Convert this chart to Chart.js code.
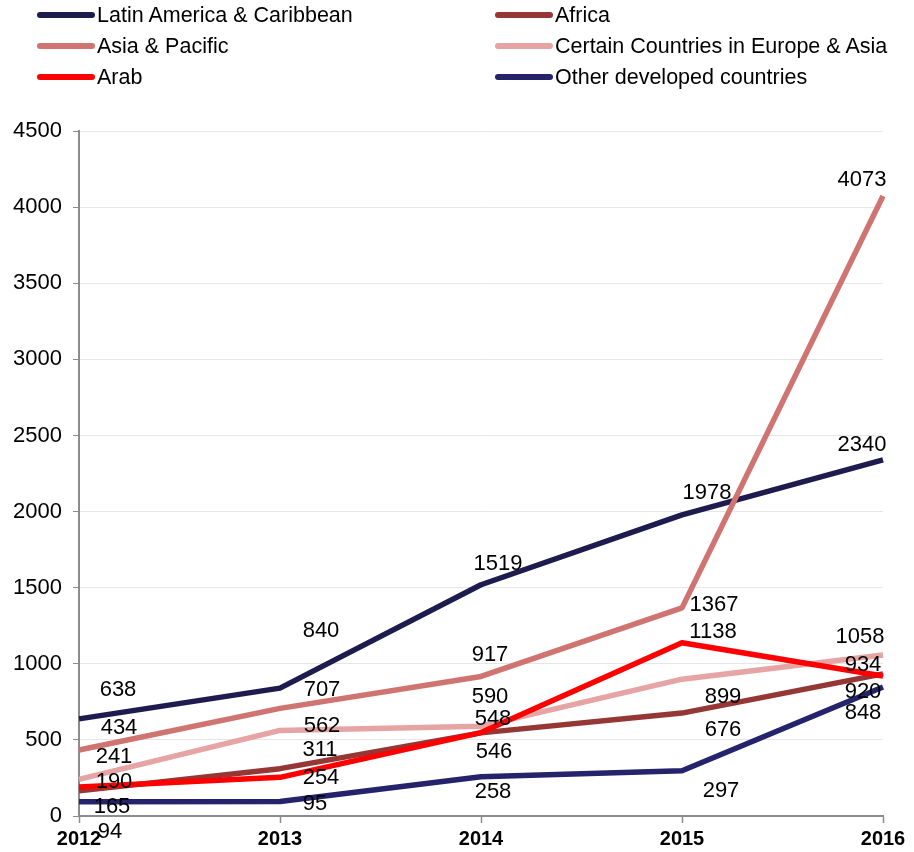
<!DOCTYPE html>
<html>
<head>
<meta charset="utf-8">
<script src="https://cdn.jsdelivr.net/npm/chart.js@4"></script>
<style>
  html, body { margin: 0; padding: 0; background: #fff; }
  #wrap { position: relative; width: 914px; height: 852px; font-family: 'Liberation Sans', Arial, sans-serif; }
  #chart { position: absolute; left: 0; top: 0; }
  .lg { position: absolute; display: flex; align-items: center; font-size: 21.5px; color: #000; white-space: nowrap; height: 24px; }
  .lg i { display: inline-block; width: 58px; height: 6px; border-radius: 3px; margin-right: 2px; }
</style>
</head>
<body>
<div id="wrap">
  <canvas id="chart" width="914" height="852"></canvas>
</div>
<script>
const YEARS = ['2012', '2013', '2014', '2015', '2016'];

const LATAM   = [638, 840, 1519, 1978, 2340];
const AFRICA  = [165, 311, 546, 676, 934];
const ASIA    = [434, 707, 917, 1367, 4073];
const EUASIA  = [241, 562, 590, 899, 1058];
const ARAB    = [190, 254, 548, 1138, 920];
const OTHER   = [94, 95, 258, 297, 848];

const SERIES = [
  { label: 'Latin America & Caribbean',           color: '#1E1C4E', data: LATAM  },
  { label: 'Africa',                              color: '#953735', data: AFRICA },
  { label: 'Asia & Pacific',                      color: '#D07472', data: ASIA   },
  { label: 'Certain Countries in Europe & Asia',  color: '#E6A4A4', data: EUASIA },
  { label: 'Arab',                                color: '#FF0000', data: ARAB   },
  { label: 'Other developed countries',           color: '#25236C', data: OTHER  },
];

// hand placed value labels (offset from the point, px)
const NUDGE = [
  [[39, -29], [41, -57], [17, -21], [25, -22], [-21, -15]],
  [[33, 16],  [40, -19], [13, 19],  [41, 17],  [-20, -9]],
  [[40, -22], [42, -18], [9, -21],  [32, -3],  [-21, -16]],
  [[35, -22], [42, -5],  [9, -29],  [41, 18],  [-23, -18]],
  [[35, -5],  [41, 1],   [12, -14], [31, -11], [-20, 16]],
  [[31, 30],  [35, 2],   [12, 15],  [39, 20],  [-20, 26]],
];

const FONT = "'Liberation Sans', Arial, sans-serif";
Chart.defaults.font.family = FONT;

// legend, two columns
const wrap = document.getElementById('wrap');
SERIES.forEach((s, i) => {
  const d = document.createElement('div');
  d.className = 'lg';
  d.style.left = (i % 2 ? 495 : 37) + 'px';
  d.style.top = (3 + Math.floor(i / 2) * 31) + 'px';
  d.innerHTML = '<i style="background:' + s.color + '"></i><span>' + s.label.replace(/&/g, '&amp;') + '</span>';
  wrap.appendChild(d);
});

const valueLabels = {
  id: 'valueLabels',
  afterDatasetsDraw(chart) {
    const ctx = chart.ctx;
    ctx.save();
    ctx.font = '22px ' + FONT;
    ctx.fillStyle = '#000';
    ctx.textAlign = 'center';
    ctx.textBaseline = 'middle';
    chart.data.datasets.forEach((ds, i) => {
      chart.getDatasetMeta(i).data.forEach((pt, j) => {
        const [dx, dy] = NUDGE[i][j];
        ctx.fillText(String(ds.data[j]), pt.x + dx, pt.y + dy);
      });
    });
    ctx.restore();
  }
};

const chart = new Chart(document.getElementById('chart'), {
  type: 'line',
  data: {
    labels: YEARS,
    datasets: SERIES.map((s, i) => ({
      label: s.label,
      data: s.data,
      borderColor: s.color,
      backgroundColor: s.color,
      borderWidth: 5.5,
      borderJoinStyle: 'round',
      pointRadius: 0,
      tension: 0,
      fill: false,
      order: SERIES.length - i,
    }))
  },
  options: {
    responsive: false,
    animation: false,
    layout: { padding: { top: 131, right: 31, left: 0, bottom: 0 } },
    plugins: {
      legend: { display: false },
      tooltip: { enabled: false }
    },
    scales: {
      x: {
        offset: false,
        grid: { drawOnChartArea: false, tickLength: 7, tickColor: '#8c8c8c', tickWidth: 1.5 },
        border: { color: '#8c8c8c', width: 2 },
        ticks: { font: { size: 20, weight: 'bold' }, color: '#000', padding: 4, maxRotation: 0 },
        afterFit: s => { s.height = 36; }
      },
      y: {
        min: 0,
        max: 4500,
        ticks: { stepSize: 500, font: { size: 22 }, color: '#000', padding: 11, callback: v => String(v) },
        grid: { color: '#e6e6e6', tickColor: '#8c8c8c', tickLength: 6, lineWidth: 1 },
        border: { color: '#8c8c8c', width: 2 },
        afterFit: s => { s.width = 79; }
      }
    }
  },
  plugins: [valueLabels]
});
</script>
</body>
</html>
